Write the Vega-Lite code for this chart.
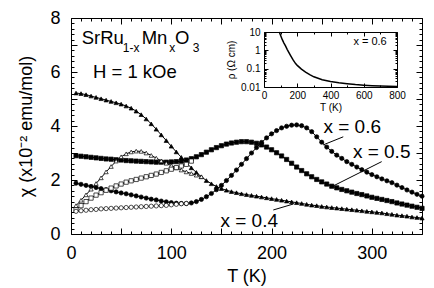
{
"$schema":"https://vega.github.io/schema/vega-lite/v6.json",
"width":351,"height":216,
"autosize":{"type":"none"},
"padding":{"left":71,"top":18,"right":12,"bottom":54},
"background":"white",
"config":{"view":{"stroke":null},"font":"Liberation Sans",
 "axis":{"grid":false,"domainColor":"black","tickColor":"black","labelColor":"black","titleColor":"black","labelFont":"Liberation Sans","titleFont":"Liberation Sans","labelFlush":false,"labelOverlap":false,"titleFontWeight":"normal","domainWidth":1,"tickWidth":1},
 "text":{"font":"Liberation Sans","color":"black"}},
"datasets":{
"chi":[
{"T":5,"c":5.22,"s":"0.4","m":"FC"},{"T":10,"c":5.20,"s":"0.4","m":"FC"},{"T":15,"c":5.16,"s":"0.4","m":"FC"},{"T":20,"c":5.11,"s":"0.4","m":"FC"},{"T":25,"c":5.06,"s":"0.4","m":"FC"},{"T":30,"c":5.01,"s":"0.4","m":"FC"},{"T":35,"c":4.96,"s":"0.4","m":"FC"},{"T":40,"c":4.91,"s":"0.4","m":"FC"},{"T":45,"c":4.86,"s":"0.4","m":"FC"},{"T":50,"c":4.81,"s":"0.4","m":"FC"},{"T":55,"c":4.74,"s":"0.4","m":"FC"},{"T":60,"c":4.66,"s":"0.4","m":"FC"},{"T":65,"c":4.55,"s":"0.4","m":"FC"},{"T":70,"c":4.42,"s":"0.4","m":"FC"},{"T":75,"c":4.26,"s":"0.4","m":"FC"},{"T":80,"c":4.08,"s":"0.4","m":"FC"},{"T":85,"c":3.88,"s":"0.4","m":"FC"},{"T":90,"c":3.67,"s":"0.4","m":"FC"},{"T":95,"c":3.46,"s":"0.4","m":"FC"},{"T":100,"c":3.25,"s":"0.4","m":"FC"},{"T":105,"c":3.04,"s":"0.4","m":"FC"},{"T":110,"c":2.84,"s":"0.4","m":"FC"},{"T":115,"c":2.64,"s":"0.4","m":"FC"},{"T":120,"c":2.45,"s":"0.4","m":"FC"},{"T":125,"c":2.28,"s":"0.4","m":"FC"},{"T":130,"c":2.12,"s":"0.4","m":"FC"},{"T":135,"c":1.98,"s":"0.4","m":"FC"},{"T":140,"c":1.86,"s":"0.4","m":"FC"},{"T":145,"c":1.76,"s":"0.4","m":"FC"},{"T":150,"c":1.68,"s":"0.4","m":"FC"},{"T":155,"c":1.62,"s":"0.4","m":"FC"},{"T":160,"c":1.57,"s":"0.4","m":"FC"},{"T":165,"c":1.53,"s":"0.4","m":"FC"},{"T":170,"c":1.49,"s":"0.4","m":"FC"},{"T":175,"c":1.46,"s":"0.4","m":"FC"},{"T":180,"c":1.43,"s":"0.4","m":"FC"},{"T":185,"c":1.40,"s":"0.4","m":"FC"},{"T":190,"c":1.37,"s":"0.4","m":"FC"},{"T":195,"c":1.34,"s":"0.4","m":"FC"},{"T":200,"c":1.31,"s":"0.4","m":"FC"},{"T":205,"c":1.28,"s":"0.4","m":"FC"},{"T":210,"c":1.25,"s":"0.4","m":"FC"},{"T":215,"c":1.22,"s":"0.4","m":"FC"},{"T":220,"c":1.19,"s":"0.4","m":"FC"},{"T":225,"c":1.16,"s":"0.4","m":"FC"},{"T":230,"c":1.13,"s":"0.4","m":"FC"},{"T":235,"c":1.10,"s":"0.4","m":"FC"},{"T":240,"c":1.07,"s":"0.4","m":"FC"},{"T":245,"c":1.05,"s":"0.4","m":"FC"},{"T":250,"c":1.02,"s":"0.4","m":"FC"},{"T":255,"c":1.00,"s":"0.4","m":"FC"},{"T":260,"c":0.98,"s":"0.4","m":"FC"},{"T":265,"c":0.96,"s":"0.4","m":"FC"},{"T":270,"c":0.94,"s":"0.4","m":"FC"},{"T":275,"c":0.92,"s":"0.4","m":"FC"},{"T":280,"c":0.90,"s":"0.4","m":"FC"},{"T":285,"c":0.88,"s":"0.4","m":"FC"},{"T":290,"c":0.86,"s":"0.4","m":"FC"},{"T":295,"c":0.84,"s":"0.4","m":"FC"},{"T":300,"c":0.82,"s":"0.4","m":"FC"},{"T":305,"c":0.80,"s":"0.4","m":"FC"},{"T":310,"c":0.78,"s":"0.4","m":"FC"},{"T":315,"c":0.75,"s":"0.4","m":"FC"},{"T":320,"c":0.73,"s":"0.4","m":"FC"},{"T":325,"c":0.70,"s":"0.4","m":"FC"},{"T":330,"c":0.68,"s":"0.4","m":"FC"},{"T":335,"c":0.66,"s":"0.4","m":"FC"},{"T":340,"c":0.63,"s":"0.4","m":"FC"},{"T":345,"c":0.61,"s":"0.4","m":"FC"},{"T":350,"c":0.59,"s":"0.4","m":"FC"},
{"T":5,"c":2.90,"s":"0.5","m":"FC"},{"T":10,"c":2.88,"s":"0.5","m":"FC"},{"T":15,"c":2.86,"s":"0.5","m":"FC"},{"T":20,"c":2.84,"s":"0.5","m":"FC"},{"T":25,"c":2.82,"s":"0.5","m":"FC"},{"T":30,"c":2.80,"s":"0.5","m":"FC"},{"T":35,"c":2.78,"s":"0.5","m":"FC"},{"T":40,"c":2.77,"s":"0.5","m":"FC"},{"T":45,"c":2.75,"s":"0.5","m":"FC"},{"T":50,"c":2.74,"s":"0.5","m":"FC"},{"T":55,"c":2.72,"s":"0.5","m":"FC"},{"T":60,"c":2.71,"s":"0.5","m":"FC"},{"T":65,"c":2.70,"s":"0.5","m":"FC"},{"T":70,"c":2.69,"s":"0.5","m":"FC"},{"T":75,"c":2.68,"s":"0.5","m":"FC"},{"T":80,"c":2.67,"s":"0.5","m":"FC"},{"T":85,"c":2.66,"s":"0.5","m":"FC"},{"T":90,"c":2.66,"s":"0.5","m":"FC"},{"T":95,"c":2.66,"s":"0.5","m":"FC"},{"T":100,"c":2.67,"s":"0.5","m":"FC"},{"T":105,"c":2.68,"s":"0.5","m":"FC"},{"T":110,"c":2.70,"s":"0.5","m":"FC"},{"T":115,"c":2.74,"s":"0.5","m":"FC"},{"T":120,"c":2.79,"s":"0.5","m":"FC"},{"T":125,"c":2.86,"s":"0.5","m":"FC"},{"T":130,"c":2.94,"s":"0.5","m":"FC"},{"T":135,"c":3.03,"s":"0.5","m":"FC"},{"T":140,"c":3.12,"s":"0.5","m":"FC"},{"T":145,"c":3.20,"s":"0.5","m":"FC"},{"T":150,"c":3.27,"s":"0.5","m":"FC"},{"T":155,"c":3.33,"s":"0.5","m":"FC"},{"T":160,"c":3.37,"s":"0.5","m":"FC"},{"T":165,"c":3.40,"s":"0.5","m":"FC"},{"T":170,"c":3.42,"s":"0.5","m":"FC"},{"T":175,"c":3.42,"s":"0.5","m":"FC"},{"T":180,"c":3.40,"s":"0.5","m":"FC"},{"T":185,"c":3.36,"s":"0.5","m":"FC"},{"T":190,"c":3.30,"s":"0.5","m":"FC"},{"T":195,"c":3.22,"s":"0.5","m":"FC"},{"T":200,"c":3.12,"s":"0.5","m":"FC"},{"T":205,"c":3.01,"s":"0.5","m":"FC"},{"T":210,"c":2.89,"s":"0.5","m":"FC"},{"T":215,"c":2.76,"s":"0.5","m":"FC"},{"T":220,"c":2.62,"s":"0.5","m":"FC"},{"T":225,"c":2.48,"s":"0.5","m":"FC"},{"T":230,"c":2.35,"s":"0.5","m":"FC"},{"T":235,"c":2.23,"s":"0.5","m":"FC"},{"T":240,"c":2.12,"s":"0.5","m":"FC"},{"T":245,"c":2.02,"s":"0.5","m":"FC"},{"T":250,"c":1.93,"s":"0.5","m":"FC"},{"T":255,"c":1.85,"s":"0.5","m":"FC"},{"T":260,"c":1.77,"s":"0.5","m":"FC"},{"T":265,"c":1.71,"s":"0.5","m":"FC"},{"T":270,"c":1.65,"s":"0.5","m":"FC"},{"T":275,"c":1.60,"s":"0.5","m":"FC"},{"T":280,"c":1.55,"s":"0.5","m":"FC"},{"T":285,"c":1.50,"s":"0.5","m":"FC"},{"T":290,"c":1.46,"s":"0.5","m":"FC"},{"T":295,"c":1.41,"s":"0.5","m":"FC"},{"T":300,"c":1.36,"s":"0.5","m":"FC"},{"T":305,"c":1.32,"s":"0.5","m":"FC"},{"T":310,"c":1.28,"s":"0.5","m":"FC"},{"T":315,"c":1.24,"s":"0.5","m":"FC"},{"T":320,"c":1.20,"s":"0.5","m":"FC"},{"T":325,"c":1.15,"s":"0.5","m":"FC"},{"T":330,"c":1.11,"s":"0.5","m":"FC"},{"T":335,"c":1.07,"s":"0.5","m":"FC"},{"T":340,"c":1.03,"s":"0.5","m":"FC"},{"T":345,"c":0.99,"s":"0.5","m":"FC"},{"T":350,"c":0.95,"s":"0.5","m":"FC"},
{"T":5,"c":1.88,"s":"0.6","m":"FC"},{"T":10,"c":1.84,"s":"0.6","m":"FC"},{"T":15,"c":1.80,"s":"0.6","m":"FC"},{"T":20,"c":1.76,"s":"0.6","m":"FC"},{"T":25,"c":1.72,"s":"0.6","m":"FC"},{"T":30,"c":1.68,"s":"0.6","m":"FC"},{"T":35,"c":1.64,"s":"0.6","m":"FC"},{"T":40,"c":1.60,"s":"0.6","m":"FC"},{"T":45,"c":1.56,"s":"0.6","m":"FC"},{"T":50,"c":1.52,"s":"0.6","m":"FC"},{"T":55,"c":1.49,"s":"0.6","m":"FC"},{"T":60,"c":1.45,"s":"0.6","m":"FC"},{"T":65,"c":1.41,"s":"0.6","m":"FC"},{"T":70,"c":1.37,"s":"0.6","m":"FC"},{"T":75,"c":1.33,"s":"0.6","m":"FC"},{"T":80,"c":1.29,"s":"0.6","m":"FC"},{"T":85,"c":1.26,"s":"0.6","m":"FC"},{"T":90,"c":1.22,"s":"0.6","m":"FC"},{"T":95,"c":1.19,"s":"0.6","m":"FC"},{"T":100,"c":1.16,"s":"0.6","m":"FC"},{"T":105,"c":1.14,"s":"0.6","m":"FC"},{"T":110,"c":1.13,"s":"0.6","m":"FC"},{"T":115,"c":1.13,"s":"0.6","m":"FC"},{"T":120,"c":1.15,"s":"0.6","m":"FC"},{"T":125,"c":1.20,"s":"0.6","m":"FC"},{"T":130,"c":1.28,"s":"0.6","m":"FC"},{"T":135,"c":1.38,"s":"0.6","m":"FC"},{"T":140,"c":1.50,"s":"0.6","m":"FC"},{"T":145,"c":1.64,"s":"0.6","m":"FC"},{"T":150,"c":1.80,"s":"0.6","m":"FC"},{"T":155,"c":1.98,"s":"0.6","m":"FC"},{"T":160,"c":2.17,"s":"0.6","m":"FC"},{"T":165,"c":2.37,"s":"0.6","m":"FC"},{"T":170,"c":2.58,"s":"0.6","m":"FC"},{"T":175,"c":2.79,"s":"0.6","m":"FC"},{"T":180,"c":3.00,"s":"0.6","m":"FC"},{"T":185,"c":3.20,"s":"0.6","m":"FC"},{"T":190,"c":3.39,"s":"0.6","m":"FC"},{"T":195,"c":3.56,"s":"0.6","m":"FC"},{"T":200,"c":3.71,"s":"0.6","m":"FC"},{"T":205,"c":3.83,"s":"0.6","m":"FC"},{"T":210,"c":3.93,"s":"0.6","m":"FC"},{"T":215,"c":3.99,"s":"0.6","m":"FC"},{"T":220,"c":4.03,"s":"0.6","m":"FC"},{"T":225,"c":4.04,"s":"0.6","m":"FC"},{"T":230,"c":4.01,"s":"0.6","m":"FC"},{"T":235,"c":3.93,"s":"0.6","m":"FC"},{"T":240,"c":3.79,"s":"0.6","m":"FC"},{"T":245,"c":3.60,"s":"0.6","m":"FC"},{"T":250,"c":3.40,"s":"0.6","m":"FC"},{"T":255,"c":3.22,"s":"0.6","m":"FC"},{"T":260,"c":3.06,"s":"0.6","m":"FC"},{"T":265,"c":2.92,"s":"0.6","m":"FC"},{"T":270,"c":2.80,"s":"0.6","m":"FC"},{"T":275,"c":2.68,"s":"0.6","m":"FC"},{"T":280,"c":2.58,"s":"0.6","m":"FC"},{"T":285,"c":2.48,"s":"0.6","m":"FC"},{"T":290,"c":2.38,"s":"0.6","m":"FC"},{"T":295,"c":2.29,"s":"0.6","m":"FC"},{"T":300,"c":2.20,"s":"0.6","m":"FC"},{"T":305,"c":2.12,"s":"0.6","m":"FC"},{"T":310,"c":2.04,"s":"0.6","m":"FC"},{"T":315,"c":1.97,"s":"0.6","m":"FC"},{"T":320,"c":1.90,"s":"0.6","m":"FC"},{"T":325,"c":1.81,"s":"0.6","m":"FC"},{"T":330,"c":1.72,"s":"0.6","m":"FC"},{"T":335,"c":1.63,"s":"0.6","m":"FC"},{"T":340,"c":1.55,"s":"0.6","m":"FC"},{"T":345,"c":1.47,"s":"0.6","m":"FC"},{"T":350,"c":1.40,"s":"0.6","m":"FC"},
{"T":5,"c":1.05,"s":"0.4","m":"ZFC"},{"T":10,"c":1.25,"s":"0.4","m":"ZFC"},{"T":15,"c":1.45,"s":"0.4","m":"ZFC"},{"T":20,"c":1.66,"s":"0.4","m":"ZFC"},{"T":25,"c":1.87,"s":"0.4","m":"ZFC"},{"T":30,"c":2.08,"s":"0.4","m":"ZFC"},{"T":35,"c":2.30,"s":"0.4","m":"ZFC"},{"T":40,"c":2.50,"s":"0.4","m":"ZFC"},{"T":45,"c":2.70,"s":"0.4","m":"ZFC"},{"T":50,"c":2.86,"s":"0.4","m":"ZFC"},{"T":55,"c":2.97,"s":"0.4","m":"ZFC"},{"T":60,"c":3.04,"s":"0.4","m":"ZFC"},{"T":65,"c":3.07,"s":"0.4","m":"ZFC"},{"T":70,"c":3.06,"s":"0.4","m":"ZFC"},{"T":75,"c":3.00,"s":"0.4","m":"ZFC"},{"T":80,"c":2.91,"s":"0.4","m":"ZFC"},{"T":85,"c":2.81,"s":"0.4","m":"ZFC"},{"T":90,"c":2.71,"s":"0.4","m":"ZFC"},{"T":95,"c":2.62,"s":"0.4","m":"ZFC"},{"T":100,"c":2.53,"s":"0.4","m":"ZFC"},{"T":105,"c":2.45,"s":"0.4","m":"ZFC"},{"T":110,"c":2.37,"s":"0.4","m":"ZFC"},{"T":115,"c":2.30,"s":"0.4","m":"ZFC"},{"T":120,"c":2.24,"s":"0.4","m":"ZFC"},{"T":125,"c":2.18,"s":"0.4","m":"ZFC"},{"T":130,"c":2.12,"s":"0.4","m":"ZFC"},
{"T":5,"c":0.90,"s":"0.5","m":"ZFC"},{"T":10,"c":1.05,"s":"0.5","m":"ZFC"},{"T":15,"c":1.20,"s":"0.5","m":"ZFC"},{"T":20,"c":1.33,"s":"0.5","m":"ZFC"},{"T":25,"c":1.44,"s":"0.5","m":"ZFC"},{"T":30,"c":1.53,"s":"0.5","m":"ZFC"},{"T":35,"c":1.62,"s":"0.5","m":"ZFC"},{"T":40,"c":1.70,"s":"0.5","m":"ZFC"},{"T":45,"c":1.78,"s":"0.5","m":"ZFC"},{"T":50,"c":1.85,"s":"0.5","m":"ZFC"},{"T":55,"c":1.92,"s":"0.5","m":"ZFC"},{"T":60,"c":1.97,"s":"0.5","m":"ZFC"},{"T":65,"c":2.02,"s":"0.5","m":"ZFC"},{"T":70,"c":2.07,"s":"0.5","m":"ZFC"},{"T":75,"c":2.12,"s":"0.5","m":"ZFC"},{"T":80,"c":2.17,"s":"0.5","m":"ZFC"},{"T":85,"c":2.22,"s":"0.5","m":"ZFC"},{"T":90,"c":2.28,"s":"0.5","m":"ZFC"},{"T":95,"c":2.34,"s":"0.5","m":"ZFC"},{"T":100,"c":2.40,"s":"0.5","m":"ZFC"},{"T":105,"c":2.46,"s":"0.5","m":"ZFC"},{"T":110,"c":2.52,"s":"0.5","m":"ZFC"},{"T":115,"c":2.58,"s":"0.5","m":"ZFC"},{"T":120,"c":2.70,"s":"0.5","m":"ZFC"},
{"T":5,"c":0.84,"s":"0.6","m":"ZFC"},{"T":10,"c":0.86,"s":"0.6","m":"ZFC"},{"T":15,"c":0.88,"s":"0.6","m":"ZFC"},{"T":20,"c":0.90,"s":"0.6","m":"ZFC"},{"T":25,"c":0.91,"s":"0.6","m":"ZFC"},{"T":30,"c":0.93,"s":"0.6","m":"ZFC"},{"T":35,"c":0.94,"s":"0.6","m":"ZFC"},{"T":40,"c":0.95,"s":"0.6","m":"ZFC"},{"T":45,"c":0.96,"s":"0.6","m":"ZFC"},{"T":50,"c":0.97,"s":"0.6","m":"ZFC"},{"T":55,"c":0.98,"s":"0.6","m":"ZFC"},{"T":60,"c":0.99,"s":"0.6","m":"ZFC"},{"T":65,"c":1.00,"s":"0.6","m":"ZFC"},{"T":70,"c":1.01,"s":"0.6","m":"ZFC"},{"T":75,"c":1.02,"s":"0.6","m":"ZFC"},{"T":80,"c":1.03,"s":"0.6","m":"ZFC"},{"T":85,"c":1.04,"s":"0.6","m":"ZFC"},{"T":90,"c":1.05,"s":"0.6","m":"ZFC"},{"T":95,"c":1.06,"s":"0.6","m":"ZFC"},{"T":100,"c":1.08,"s":"0.6","m":"ZFC"},{"T":105,"c":1.10,"s":"0.6","m":"ZFC"},{"T":110,"c":1.12,"s":"0.6","m":"ZFC"},{"T":115,"c":1.13,"s":"0.6","m":"ZFC"}
],
"leaders":[{"T":271.5,"c":3.60,"T2":251.5,"c2":3.30},{"T":309.8,"c":2.68,"T2":259.9,"c2":1.75},{"T":201.7,"c":0.89,"T2":221.7,"c2":1.11}],
"labels":[{"T":280.4,"c":3.75,"t":"x = 0.6"},{"T":309.8,"c":2.80,"t":"x = 0.5"},{"T":177.7,"c":0.25,"t":"x = 0.4"}],
"big":[{"T":10.7,"c":7.03,"t":"SrRu"},{"T":70.5,"c":7.03,"t":"Mn"},{"T":103.7,"c":7.03,"t":"O"},{"T":21.9,"c":5.77,"t":"H = 1 kOe"}],
"subs":[{"T":51.6,"c":6.73,"t":"1-x"},{"T":98.0,"c":6.73,"t":"x"},{"T":121.3,"c":6.73,"t":"3"}],
"rho":[{"T":92,"r":10},{"T":100,"r":6.5},{"T":110,"r":3.8},{"T":120,"r":2.5},{"T":130,"r":1.7},{"T":140,"r":1.1},{"T":150,"r":0.75},{"T":160,"r":0.52},{"T":175,"r":0.3},{"T":190,"r":0.19},{"T":200,"r":0.15},{"T":225,"r":0.095},{"T":250,"r":0.065},{"T":275,"r":0.047},{"T":300,"r":0.036},{"T":350,"r":0.025},{"T":400,"r":0.02},{"T":450,"r":0.017},{"T":500,"r":0.015},{"T":550,"r":0.0135},{"T":600,"r":0.0125},{"T":650,"r":0.0118},{"T":700,"r":0.0113},{"T":750,"r":0.011},{"T":800,"r":0.0107}],
"inlab":[{"T":638,"r":2.0,"t":"x = 0.6"}]
},
"resolve":{"scale":{"x":"independent","y":"independent"}},
"layer":[
{"data":{"name":"chi"},"mark":{"type":"line","stroke":"black","strokeWidth":1},
 "encoding":{
  "x":{"field":"T","type":"quantitative","scale":{"domain":[0,350],"nice":false},
   "axis":{"orient":"bottom","values":[0,10,20,30,40,50,60,70,80,90,100,110,120,130,140,150,160,170,180,190,200,210,220,230,240,250,260,270,280,290,300,310,320,330,340,350],
    "tickSize":{"condition":{"test":"datum.value % 50 === 0","value":-6},"value":-3},
    "labelExpr":"datum.value % 100 === 0 ? format(datum.value,'d') : ''","labelFontSize":18,"labelPadding":16,
    "title":"T (K)","titleFontSize":18,"titlePadding":2}},
  "y":{"field":"c","type":"quantitative","scale":{"domain":[0,8],"nice":false},
   "axis":{"orient":"left","values":[0,0.2,0.4,0.6,0.8,1,1.2,1.4,1.6,1.8,2,2.2,2.4,2.6,2.8,3,3.2,3.4,3.6,3.8,4,4.2,4.4,4.6,4.8,5,5.2,5.4,5.6,5.8,6,6.2,6.4,6.6,6.8,7,7.2,7.4,7.6,7.8,8],
    "tickSize":{"condition":{"test":"datum.value % 1 === 0","value":-6},"value":-3},
    "labelExpr":"datum.value % 2 === 0 ? format(datum.value,'d') : ''","labelFontSize":18,"labelPadding":17,
    "title":"χ (x10⁻² emu/mol)","titleFontSize":18,"titlePadding":14}},
  "detail":[{"field":"s","type":"nominal"},{"field":"m","type":"nominal"}]}},
{"data":{"name":"chi"},"mark":{"type":"point","stroke":"black","strokeWidth":0.7,"opacity":1,"size":18},
 "encoding":{
  "x":{"field":"T","type":"quantitative","scale":{"domain":[0,350],"nice":false},
   "axis":{"orient":"top","values":[0,10,20,30,40,50,60,70,80,90,100,110,120,130,140,150,160,170,180,190,200,210,220,230,240,250,260,270,280,290,300,310,320,330,340,350],
    "tickSize":{"condition":{"test":"datum.value % 50 === 0","value":-6},"value":-3},"labels":false,"title":null}},
  "y":{"field":"c","type":"quantitative","scale":{"domain":[0,8],"nice":false},
   "axis":{"orient":"right","values":[0,0.2,0.4,0.6,0.8,1,1.2,1.4,1.6,1.8,2,2.2,2.4,2.6,2.8,3,3.2,3.4,3.6,3.8,4,4.2,4.4,4.6,4.8,5,5.2,5.4,5.6,5.8,6,6.2,6.4,6.6,6.8,7,7.2,7.4,7.6,7.8,8],
    "tickSize":{"condition":{"test":"datum.value % 1 === 0","value":-6},"value":-3},"labels":false,"title":null}},
  "shape":{"field":"s","type":"nominal","scale":{"domain":["0.4","0.5","0.6"],"range":["triangle-up","square","circle"]},"legend":null},
  "fill":{"field":"m","type":"nominal","scale":{"domain":["FC","ZFC"],"range":["black","white"]},"legend":null}}},
{"data":{"name":"leaders"},"mark":{"type":"rule","stroke":"black","strokeWidth":1},
 "encoding":{
  "x":{"field":"T","type":"quantitative","scale":{"domain":[0,350],"nice":false},"axis":null},
  "y":{"field":"c","type":"quantitative","scale":{"domain":[0,8],"nice":false},"axis":null},
  "x2":{"field":"T2"},"y2":{"field":"c2"}}},
{"data":{"name":"labels"},"mark":{"type":"text","fontSize":19,"align":"center","baseline":"alphabetic"},
 "encoding":{
  "x":{"field":"T","type":"quantitative","scale":{"domain":[0,350],"nice":false},"axis":null},
  "y":{"field":"c","type":"quantitative","scale":{"domain":[0,8],"nice":false},"axis":null},
  "text":{"field":"t"}}},
{"data":{"name":"big"},"mark":{"type":"text","fontSize":18.5,"align":"left","baseline":"alphabetic"},
 "encoding":{
  "x":{"field":"T","type":"quantitative","scale":{"domain":[0,350],"nice":false},"axis":null},
  "y":{"field":"c","type":"quantitative","scale":{"domain":[0,8],"nice":false},"axis":null},
  "text":{"field":"t"}}},
{"data":{"name":"subs"},"mark":{"type":"text","fontSize":12,"align":"left","baseline":"alphabetic"},
 "encoding":{
  "x":{"field":"T","type":"quantitative","scale":{"domain":[0,350],"nice":false},"axis":null},
  "y":{"field":"c","type":"quantitative","scale":{"domain":[0,8],"nice":false},"axis":null},
  "text":{"field":"t"}}},
{"data":{"name":"rho"},"mark":{"type":"line","stroke":"black","strokeWidth":1.5,"clip":true},
 "encoding":{
  "x":{"field":"T","type":"quantitative","scale":{"domain":[0,800],"nice":false,"range":[193,326]},
   "axis":{"orient":"bottom","offset":-147,"values":[0,100,200,300,400,500,600,700,800],
    "tickSize":{"condition":{"test":"datum.value % 200 === 0","value":-4},"value":-2},
    "labelExpr":"datum.value % 200 === 0 ? format(datum.value,'d') : ''","labelFontSize":10,"labelPadding":7,
    "title":"T (K)","titleFontSize":10,"titlePadding":0}},
  "y":{"field":"r","type":"quantitative","scale":{"type":"log","domain":[0.01,10],"nice":false,"range":[69,14]},
   "axis":{"orient":"left","offset":-193,"values":[0.01,0.02,0.03,0.04,0.05,0.06,0.07,0.08,0.09,0.1,0.2,0.3,0.4,0.5,0.6,0.7,0.8,0.9,1,2,3,4,5,6,7,8,9,10],
    "tickSize":{"condition":{"test":"datum.value == 0.01 || datum.value == 0.1 || datum.value == 1 || datum.value == 10","value":-4},"value":-2},
    "labelExpr":"datum.value == 10 ? '10' : datum.value == 1 ? '1' : datum.value == 0.1 ? '0.1' : datum.value == 0.01 ? '0.01' : ''","labelFontSize":10,"labelPadding":8,
    "title":"ρ (Ω cm)","titleFontSize":10,"titlePadding":4}}}},
{"data":{"name":"inlab"},"mark":{"type":"text","fontSize":11,"align":"center","baseline":"alphabetic"},
 "encoding":{
  "x":{"field":"T","type":"quantitative","scale":{"domain":[0,800],"nice":false,"range":[193,326]},
   "axis":{"orient":"top","offset":-14,"values":[0,100,200,300,400,500,600,700,800],
    "tickSize":{"condition":{"test":"datum.value % 200 === 0","value":-4},"value":-2},"labels":false,"title":null}},
  "y":{"field":"r","type":"quantitative","scale":{"type":"log","domain":[0.01,10],"nice":false,"range":[69,14]},
   "axis":{"orient":"right","offset":-25,"values":[0.01,0.02,0.03,0.04,0.05,0.06,0.07,0.08,0.09,0.1,0.2,0.3,0.4,0.5,0.6,0.7,0.8,0.9,1,2,3,4,5,6,7,8,9,10],
    "tickSize":{"condition":{"test":"datum.value == 0.01 || datum.value == 0.1 || datum.value == 1 || datum.value == 10","value":-4},"value":-2},"labels":false,"title":null}},
  "text":{"field":"t"}}}
]
}
